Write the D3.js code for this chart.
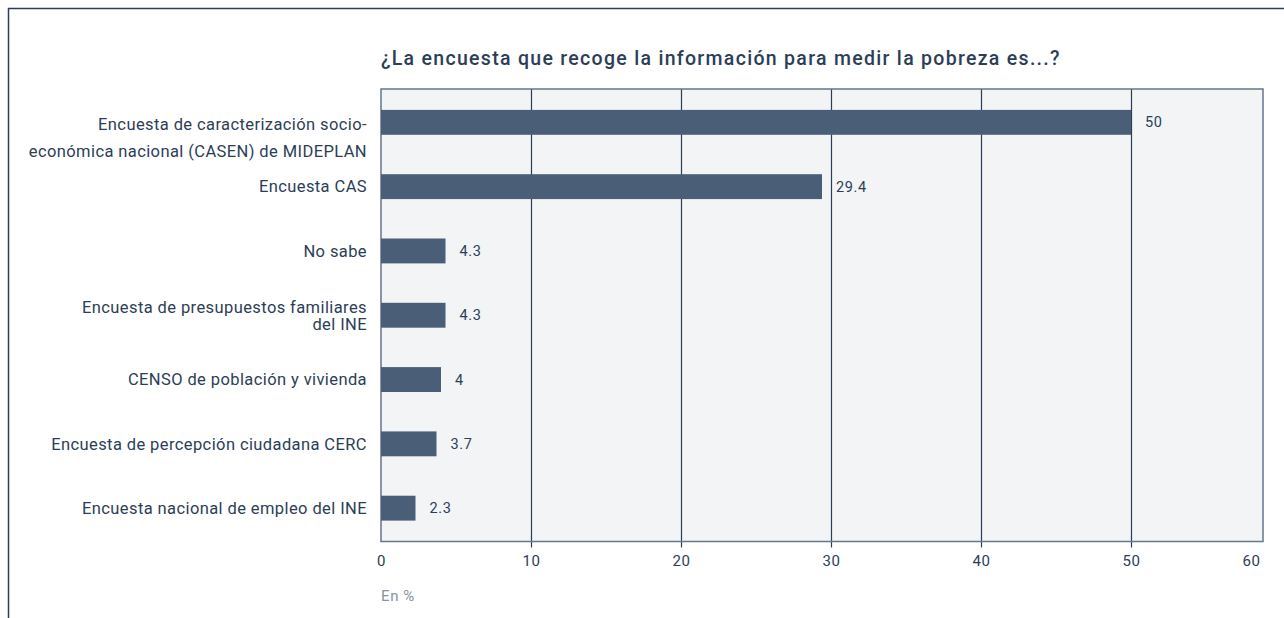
<!DOCTYPE html>
<html>
<head>
<meta charset="utf-8">
<script src="https://cdn.jsdelivr.net/npm/d3@7"></script>
<style>
  body { margin: 0; background: #fff; }
  svg { display: block; font-family: Roboto, "DejaVu Sans", sans-serif; }
</style>
</head>
<body>
<svg id="chart" width="1284" height="618"></svg>
<script>
// data
const title = "¿La encuesta que recoge la información para medir la pobreza es...?";
const categories = [
  ["Encuesta de caracterización socio-", "económica nacional (CASEN) de MIDEPLAN"],
  ["Encuesta CAS"],
  ["No sabe"],
  ["Encuesta de presupuestos familiares", "del INE"],
  ["CENSO de población y vivienda"],
  ["Encuesta de percepción ciudadana CERC"],
  ["Encuesta nacional de empleo del INE"]
];
const values = [50, 29.4, 4.3, 4.3, 4, 3.7, 2.3];
const tickValues = [0, 10, 20, 30, 40, 50, 60];
const unitLabel = "En %";

const ink = "#2c3e57";
const barColor = "#4a5e77";

const box = {left: 381, top: 89, right: 1263, bottom: 541.5};

const svg = d3.select("#chart");

// outer frame (top + left)
svg.append("path")
  .attr("d", "M8.5,618V8.5H1284")
  .attr("fill", "none")
  .attr("stroke", ink)
  .attr("stroke-width", 1.5);

svg.append("text")
  .attr("x", box.left)
  .attr("y", 65)
  .attr("fill", ink)
  .attr("font-size", 19.5)
  .attr("font-weight", 500)
  .attr("letter-spacing", 1.3)
  .text(title);

const x = d3.scaleLinear().domain([0, 60]).range([box.left, box.left + 900]);
const y = d3.scaleBand()
  .domain(d3.range(categories.length))
  .range([box.top, box.bottom])
  .paddingInner(0.613)
  .paddingOuter(0.325);

// plot background
svg.append("rect")
  .attr("x", box.left)
  .attr("y", box.top)
  .attr("width", box.right - box.left)
  .attr("height", box.bottom - box.top)
  .attr("fill", "#f2f4f6");

// grid lines, they poke out below the plot as tick marks
svg.append("g")
  .selectAll("line")
  .data(tickValues.filter(t => t > 0 && x(t) < box.right))
  .join("line")
    .attr("x1", d => x(d) + 0.5)
    .attr("x2", d => x(d) + 0.5)
    .attr("y1", box.top)
    .attr("y2", box.bottom + 6)
    .attr("stroke", ink)
    .attr("stroke-width", 1.2);

svg.append("rect")
  .attr("x", box.left)
  .attr("y", box.top)
  .attr("width", box.right - box.left)
  .attr("height", box.bottom - box.top)
  .attr("fill", "none")
  .attr("stroke", "#66768b")
  .attr("stroke-width", 1.5);

// bars
svg.append("g")
  .selectAll("rect")
  .data(values)
  .join("rect")
    .attr("x", x(0))
    .attr("y", (d, i) => y(i))
    .attr("width", d => x(d) - x(0))
    .attr("height", y.bandwidth())
    .attr("fill", barColor);

// value labels
svg.append("g")
  .selectAll("text")
  .data(values)
  .join("text")
    .attr("x", d => x(d) + 14)
    .attr("y", (d, i) => y(i) + y.bandwidth() / 2)
    .attr("dy", "0.35em")
    .attr("fill", ink)
    .attr("font-size", 14.5)
    .attr("letter-spacing", 0.6)
    .text(d => d);

// category labels
const lineOffsets = {0: [2, 29], 3: [-8, 9]};
const cat = svg.append("g")
  .selectAll("text")
  .data(categories)
  .join("text")
    .attr("text-anchor", "end")
    .attr("fill", ink)
    .attr("font-size", 16.5)
    .attr("letter-spacing", 0.4);

cat.selectAll("tspan")
  .data((d, i) => d.map((t, k) => ({t, i, k})))
  .join("tspan")
    .attr("x", 367)
    .attr("y", d => {
      let c = y(d.i) + y.bandwidth() / 2;
      let off = lineOffsets[d.i] ? lineOffsets[d.i][d.k] : 0;
      return c + off;
    })
    .attr("dy", "0.35em")
    .text(d => d.t);

// x axis labels
const axis = d3.axisBottom(x).tickValues(tickValues).tickSize(0).tickPadding(0);
const ax = svg.append("g")
  .attr("transform", `translate(0,${box.bottom})`)
  .call(axis);
ax.select(".domain").remove();
ax.selectAll("text")
  .attr("y", 19)
  .attr("dy", "0.35em")
  .attr("fill", ink)
  .attr("font-size", 15)
  .attr("letter-spacing", 0.5)
  .attr("font-family", "Roboto, sans-serif")
  .attr("transform", d => x(d) > box.right ? `translate(${box.right - x(d) - 12},0)` : null);

svg.append("text")
  .attr("x", box.left)
  .attr("y", 596)
  .attr("dy", "0.35em")
  .attr("fill", "#8793a3")
  .attr("font-size", 15)
  .attr("letter-spacing", 0.6)
  .text(unitLabel);
</script>
</body>
</html>
